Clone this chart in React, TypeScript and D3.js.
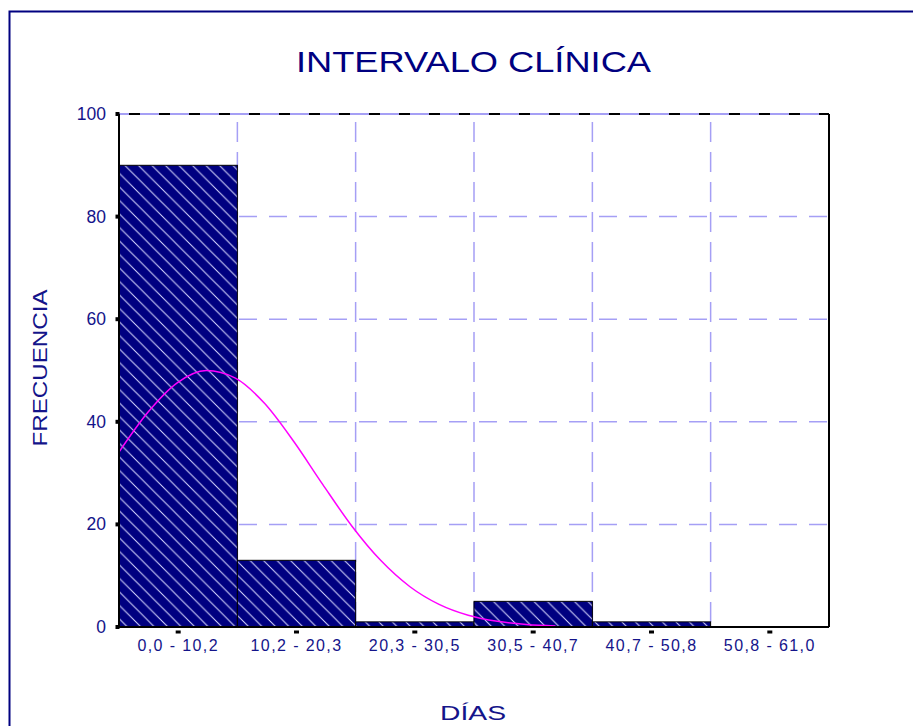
import React from "react";
import * as d3 from "d3";

const binLabels = ["0,0 - 10,2", "10,2 - 20,3", "20,3 - 30,5", "30,5 - 40,7", "40,7 - 50,8", "50,8 - 61,0"];
const binLower = [0, 10.17, 20.33, 30.5, 40.67, 50.83];
const binUpper = [10.17, 20.33, 30.5, 40.67, 50.83, 61.0];
const frequencies = [90, 13, 1, 5, 1, 0];
const yTicks = [0, 20, 40, 60, 80, 100];
const curveDays = [0, 2.5, 5, 7.5, 10, 12.5, 15, 17.5, 20, 22.5, 25, 27.5, 30, 32.5, 35, 37.5];
const curveFreq = [34.1, 41.9, 47.6, 50.0, 48.5, 43.6, 36.2, 27.8, 19.7, 12.95, 7.85, 4.41, 2.29, 1.1, 0.49, 0.2];

const W = 913;
const H = 726;
const left = 119, right = 829, top = 114, bottom = 627;
const NAVY = "#000080";
const TEXT = "#14148a";
const GRID = "#a59ff5";

export default function App() {
  const x = d3.scaleLinear().domain([0, 61.0]).range([left, right]);
  const y = d3.scaleLinear().domain([0, 100]).range([bottom, top]);
  const line = d3
    .line<number>()
    .x((_, i) => x(curveDays[i]))
    .y((d) => y(d))
    .curve(d3.curveMonotoneX);

  const innerEdges = binLower.slice(1);
  const gridY = yTicks.filter((t) => t > 0 && t < 100);

  return (
    <svg width={W} height={H} style={{ position: "absolute", left: 0, top: 0, background: "#fff" }} fontFamily="'Liberation Sans', Arial, sans-serif">
      <defs>
        <pattern id="hatch" patternUnits="userSpaceOnUse" width={13.5} height={13.5}>
          <rect width={13.5} height={13.5} fill={NAVY} />
          <line x1={0} y1={0} x2={13.5} y2={13.5} stroke="#d8d8ff" strokeWidth={1} />
          <line x1={-1} y1={12.5} x2={1} y2={14.5} stroke="#d8d8ff" strokeWidth={1} />
          <line x1={12.5} y1={-1} x2={14.5} y2={1} stroke="#d8d8ff" strokeWidth={1} />
        </pattern>
      </defs>
      <rect x={9.5} y={11.5} width={1000} height={1000} fill="none" stroke={NAVY} strokeWidth={2} />

      <text x={296} y={72} fontSize={30} fill={NAVY} textLength={355} lengthAdjust="spacingAndGlyphs">INTERVALO CLÍNICA</text>

      {/* grid */}
      {gridY.map((t) => (
        <line key={"gy" + t} x1={left} x2={right} y1={y(t)} y2={y(t)} stroke={GRID} strokeWidth={1.5} strokeDasharray="18 12" />
      ))}
      {innerEdges.map((e, i) => (
        <line key={"gx" + i} x1={x(e)} x2={x(e)} y1={top} y2={bottom} stroke={GRID} strokeWidth={1.5} strokeDasharray="20 10" strokeDashoffset={-8} />
      ))}
      <line x1={left} x2={right} y1={top} y2={top} stroke={GRID} strokeWidth={2} />
      <line x1={left} x2={right} y1={top} y2={top} stroke="#000" strokeWidth={2} strokeDasharray="11 19" strokeDashoffset={-10} />

      {/* bars */}
      {frequencies.map((f, i) =>
        f > 0 ? (
          <rect
            key={"b" + i}
            x={x(binLower[i])}
            y={y(f)}
            width={x(binUpper[i]) - x(binLower[i])}
            height={y(0) - y(f)}
            fill="url(#hatch)"
            stroke="#000"
            strokeWidth={1}
          />
        ) : null
      )}

      {/* normal curve */}
      <path d={line(curveFreq) || ""} fill="none" stroke="#ff00ff" strokeWidth={1.5} />

      {/* axes frame */}
      <line x1={left} x2={left} y1={top} y2={bottom} stroke="#000" strokeWidth={2} />
      <line x1={right} x2={right} y1={top} y2={bottom} stroke="#000" strokeWidth={2} />
      <line x1={left} x2={right} y1={bottom} y2={bottom} stroke="#000" strokeWidth={2} />

      {/* y ticks */}
      {yTicks.map((t) => (
        <g key={"yt" + t}>
          <rect x={left - 3.5} y={y(t) - 2} width={4} height={4} fill="#000" />
          <text x={106} y={y(t) + 6} textAnchor="end" fontSize={17.5} fill={TEXT}>{t}</text>
        </g>
      ))}

      {/* x ticks */}
      {binLabels.map((lab, i) => {
        const c = x((binLower[i] + binUpper[i]) / 2);
        return (
          <g key={"xt" + i}>
            <rect x={c - 2.5} y={630.5} width={5} height={3} fill="#000" />
            <text x={c} y={651} textAnchor="middle" fontSize={16} letterSpacing={1.4} fill={TEXT}>{lab}</text>
          </g>
        );
      })}

      <text transform="translate(47,368) rotate(-90)" textAnchor="middle" fontSize={21} fill={TEXT} textLength={157} lengthAdjust="spacingAndGlyphs">FRECUENCIA</text>
      <text x={473} y={720} textAnchor="middle" fontSize={20} fill={TEXT} textLength={66} lengthAdjust="spacingAndGlyphs">DÍAS</text>
    </svg>
  );
}
